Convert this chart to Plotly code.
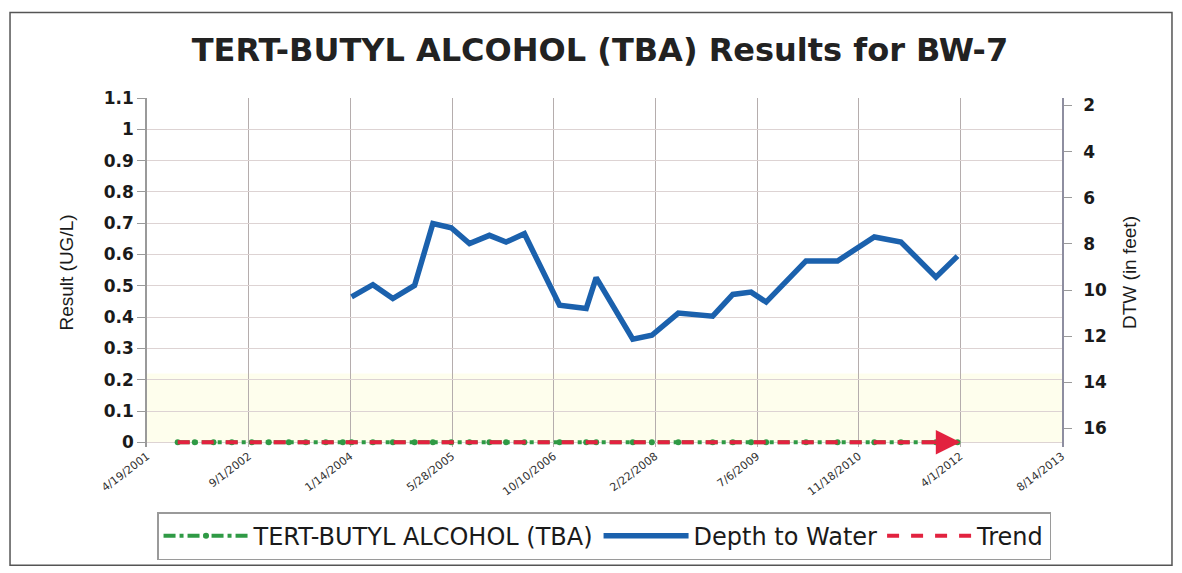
import plotly.graph_objects as go

# TBA results (all non-detect, plotted at 0)
tba_dates = ["2001-09-17", "2001-12-10", "2002-03-12", "2002-06-10", "2002-09-16",
             "2002-12-09", "2003-03-17", "2003-06-09", "2003-09-15", "2003-12-08",
             "2004-01-20", "2004-05-04", "2004-08-10", "2004-11-25", "2005-02-23",
             "2005-05-24", "2005-08-22", "2005-11-28", "2006-02-18", "2006-05-19",
             "2006-11-08", "2007-03-19", "2007-05-07", "2007-11-03", "2008-02-05",
             "2008-06-14", "2008-11-30", "2009-03-09", "2009-06-07", "2009-08-20",
             "2010-03-04", "2010-08-06", "2011-02-03", "2011-06-14", "2011-12-03",
             "2012-03-18"]
tba_result = [0] * len(tba_dates)

# depth to water (feet)
dtw_dates = ["2004-01-20", "2004-05-04", "2004-08-10", "2004-11-25", "2005-02-23",
             "2005-05-24", "2005-08-22", "2005-11-28", "2006-02-18", "2006-05-19",
             "2006-11-08", "2007-03-19", "2007-05-07", "2007-11-03", "2008-02-05",
             "2008-06-14", "2008-11-30", "2009-03-09", "2009-06-07", "2009-08-20",
             "2010-03-04", "2010-08-06", "2011-02-03", "2011-06-14", "2011-12-03",
             "2012-03-18"]
dtw_ft = [10.30, 9.77, 10.37, 9.80, 7.12, 7.30, 7.99, 7.63, 7.92, 7.56,
          10.66, 10.80, 9.46, 12.13, 11.96, 11.00, 11.13, 10.19, 10.09, 10.52,
          8.74, 8.74, 7.70, 7.92, 9.44, 8.53]

trend_dates = ["2001-09-17", "2012-03-18"]
trend_vals = [0, 0]

x_ticks = ["2001-04-19", "2002-09-01", "2004-01-14", "2005-05-28", "2006-10-10",
           "2008-02-22", "2009-07-06", "2010-11-18", "2012-04-01", "2013-08-14"]
x_labels = ["4/19/2001", "9/1/2002", "1/14/2004", "5/28/2005", "10/10/2006",
            "2/22/2008", "7/6/2009", "11/18/2010", "4/1/2012", "8/14/2013"]
y_ticks = [0, 0.1, 0.2, 0.3, 0.4, 0.5, 0.6, 0.7, 0.8, 0.9, 1, 1.1]
y_labels = ["0", "0.1", "0.2", "0.3", "0.4", "0.5", "0.6", "0.7", "0.8", "0.9", "1", "1.1"]
dtw_ticks = [2, 4, 6, 8, 10, 12, 14, 16]

green = "#2f9a45"
blue = "#1b61ad"
red = "#e2223f"

fig = go.Figure()
fig.add_trace(go.Scatter(x=tba_dates, y=tba_result, name="TERT-BUTYL ALCOHOL (TBA)",
                         mode="lines+markers", line=dict(color=green, width=4, dash="dashdot"),
                         marker=dict(color=green, size=6), cliponaxis=False))
fig.add_trace(go.Scatter(x=dtw_dates, y=dtw_ft, name="Depth to Water", yaxis="y2",
                         mode="lines", line=dict(color=blue, width=5.5)))
fig.add_trace(go.Scatter(x=trend_dates, y=trend_vals, name="Trend", mode="lines",
                         line=dict(color=red, width=4, dash="dash")))

fig.add_annotation(x="2012-04-01", y=0, ax="2011-11-01", ay=0, axref="x", ayref="y",
                   xref="x", yref="y", text="", showarrow=True, arrowhead=2,
                   arrowsize=1.4, arrowwidth=3.5, arrowcolor=red)

# faint yellow cast of the scan near the bottom
fig.add_shape(type="rect", xref="paper", yref="y", x0=0, x1=1, y0=0, y1=0.22,
              fillcolor="rgba(252,252,215,0.45)", line_width=0, layer="below")
# outer frame
fig.add_shape(type="rect", xref="paper", yref="paper", x0=-0.1497, x1=1.1202,
              y0=-0.339, y1=1.245, line=dict(color="#555555", width=1.5))

fig.update_layout(
    width=1182, height=573,
    margin=dict(l=147, r=120, t=98, b=126),
    paper_bgcolor="white", plot_bgcolor="white",
    font=dict(family="DejaVu Sans", color="#1a1a1a"),
    title=dict(text="TERT-BUTYL ALCOHOL (TBA) Results for BW-7", xref="paper", x=0.495,
               xanchor="center", y=0.913, yanchor="middle",
               font=dict(family="DejaVu Sans", size=32, color="#222222", weight="bold")),
    showlegend=True,
    legend=dict(orientation="h", x=0.4995, xanchor="center", y=-0.187, yanchor="top",
                bgcolor="white", bordercolor="#9a9a9a", borderwidth=1.5,
                font=dict(family="DejaVu Sans", size=24, color="#1a1a1a"),
                itemwidth=85),
    xaxis=dict(type="date", range=["2001-04-19", "2013-08-14"], tickvals=x_ticks,
               ticktext=x_labels, tickangle=-37, tickfont=dict(size=11, color="#333333"),
               showgrid=True, gridcolor="#b5adad", gridwidth=1, showline=False,
               zeroline=False, ticks=""),
    yaxis=dict(range=[-0.015, 1.1], tickvals=y_ticks, ticktext=y_labels,
               tickfont=dict(size=17, color="#1a1a1a", weight="bold"),
               showgrid=True, gridcolor="#ddd3d3", gridwidth=1, zeroline=False,
               showline=True, linecolor="#9a9a9a", linewidth=1.5,
               ticks="outside", ticklen=8, tickcolor="#9a9a9a",
               title=dict(text="Result (UG/L)", standoff=25,
                          font=dict(family="Liberation Sans", size=19))),
    yaxis2=dict(overlaying="y", side="right", range=[16.8, 1.68], tickvals=dtw_ticks,
                tickfont=dict(size=17, color="#1a1a1a", weight="bold"),
                showgrid=False, zeroline=False, showline=True, linecolor="#8e8ea0",
                linewidth=1.5, ticks="outside", ticklen=8, tickcolor="#9a9a9a",
                ticklabelstandoff=8,
                title=dict(text="DTW (in feet)", standoff=17,
                           font=dict(family="Liberation Sans", size=19))),
)

fig.write_html("out.html", config={"displayModeBar": False},
               post_script="document.body.style.margin = '0px';")
